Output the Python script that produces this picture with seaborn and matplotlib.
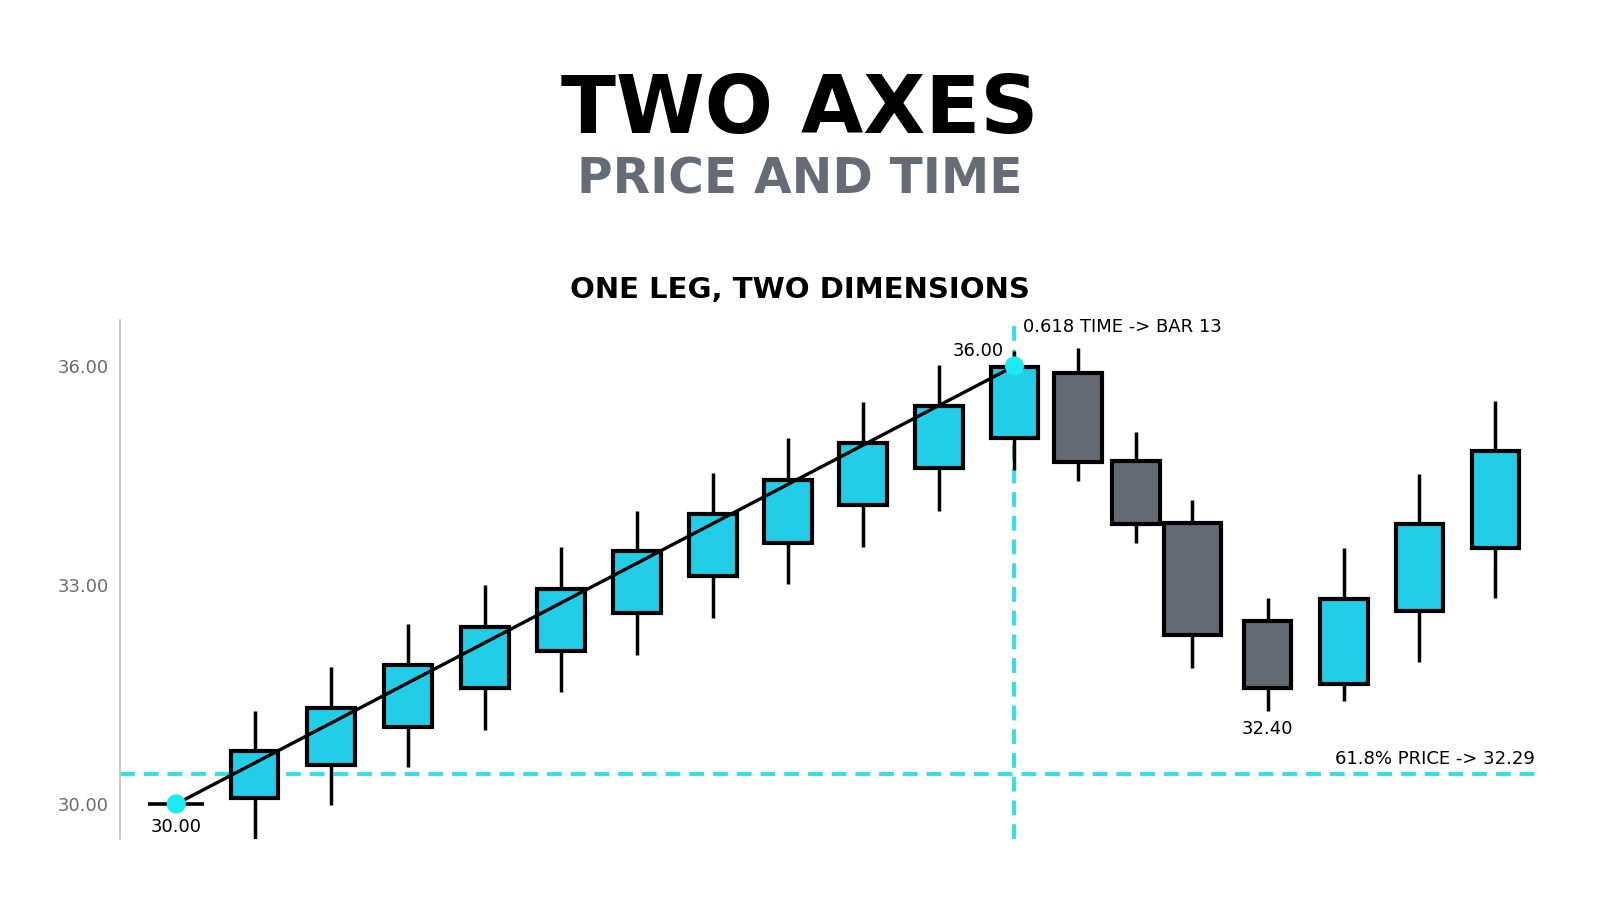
import numpy as np
import pandas as pd
import matplotlib
matplotlib.use("Agg")
import matplotlib.pyplot as plt
import seaborn as sns

# %% --------------------------------------------------------------------------
# Data
# -----------------------------------------------------------------------------
bar_x = [0, 1.03, 2.04, 3.05, 4.06, 5.06, 6.06, 7.06, 8.05, 9.04, 10.04, 11.03,
         11.87, 12.63, 13.37, 14.36, 15.37, 16.36, 17.36]
opens = [30.00, 30.08, 30.53, 31.05, 31.59, 32.09, 32.61, 33.12, 33.58, 34.09,
         34.60, 35.02, 35.90, 34.70, 33.85, 32.50, 31.64, 32.64, 33.51]
closes = [30.00, 30.73, 31.31, 31.90, 32.43, 32.95, 33.46, 33.97, 34.44, 34.95,
          35.45, 35.99, 34.69, 33.84, 32.31, 31.59, 32.81, 33.83, 34.83]
highs = [30.00, 31.27, 31.87, 32.46, 33.00, 33.52, 34.02, 34.54, 35.01, 35.51,
         36.01, 36.21, 36.24, 35.10, 34.17, 32.82, 33.51, 34.52, 35.52]
lows = [30.00, 29.25, 29.98, 30.50, 31.02, 31.53, 32.04, 32.55, 33.01, 33.52,
        34.02, 34.57, 34.42, 33.58, 31.86, 31.28, 31.41, 31.95, 32.82]
body_w = [0.74, 0.63, 0.63, 0.63, 0.63, 0.63, 0.63, 0.63, 0.63, 0.63,
          0.63, 0.63, 0.63, 0.63, 0.75, 0.63, 0.63, 0.63, 0.63]

y_ticks = [30.0, 33.0, 36.0]
swing_bars = [0, 11]
swing_prices = [30.00, 36.00]
fib_price_level = 30.41
fib_time_bar = 11

title = "TWO AXES"
subtitle = "PRICE AND TIME"
chart_title = "ONE LEG, TWO DIMENSIONS"

CYAN = "#22cde8"
GRAY = "#636a74"
DOT = "#1de9f2"
DASH = "#2fdfe9"

df = pd.DataFrame({"x": bar_x, "open": opens, "close": closes,
                   "high": highs, "low": lows, "w": body_w})

# %% --------------------------------------------------------------------------
# Figure
# -----------------------------------------------------------------------------
sns.set_theme(style="white")
plt.rcParams["font.family"] = ["DejaVu Sans"]

fig = plt.figure(figsize=(16, 9.14), dpi=100)
ax = fig.add_axes([120 / 1600, 75 / 914, 1415 / 1600, 519 / 914])

# fib guides
ax.axhline(fib_price_level, color=DASH, lw=2.8, dashes=(3.8, 2.3), zorder=1)
ax.axvline(bar_x[fib_time_bar], color=DASH, lw=2.8, dashes=(3.8, 2.3), zorder=1)

# wicks
ax.vlines(df["x"], df["low"], df["high"], color="black", lw=2.5, zorder=2)

# bodies
bull = df["close"] >= df["open"]
real = df["close"] != df["open"]
cols = np.where(bull, CYAN, GRAY)
ax.bar(df["x"][real], (df["close"] - df["open"]).abs()[real],
       bottom=df[["open", "close"]].min(axis=1)[real], width=df["w"][real],
       color=cols[real], edgecolor="black", linewidth=3, zorder=3)

# doji
doji = df[~real]
ax.hlines(doji["close"], doji["x"] - doji["w"] / 2, doji["x"] + doji["w"] / 2,
          color="black", lw=2.6, zorder=3)

# leg line + swing points
leg = pd.DataFrame({"x": [bar_x[i] for i in swing_bars], "y": swing_prices})
sns.lineplot(data=leg, x="x", y="y", ax=ax, color="black", lw=2.4, zorder=4)
sns.scatterplot(data=leg, x="x", y="y", ax=ax, color=DOT, s=190,
                edgecolor="none", zorder=5)

ax.set_xlim(-0.74, 17.88)
ax.set_ylim(29.52, 36.63)
ax.set_yticks(y_ticks)
ax.set_yticklabels([f"{v:.2f}" for v in y_ticks])
ax.set_xticks([])
ax.set_xlabel("")
ax.set_ylabel("")
ax.tick_params(axis="y", length=0, pad=8, labelsize=13, labelcolor="#6b6b6b")
for s in ["top", "right", "bottom"]:
    ax.spines[s].set_visible(False)
ax.spines["left"].set_color("#c4c4c4")
ax.spines["left"].set_linewidth(1.3)

# annotations
ann = dict(textcoords="offset pixels", va="center", fontsize=13, color="black")
ax.annotate("30.00", (bar_x[0], swing_prices[0]), xytext=(0, -23), ha="center", **ann)
ax.annotate("36.00", (bar_x[11], swing_prices[1]), xytext=(-11, 15), ha="right", **ann)
ax.annotate("0.618 TIME -> BAR 13", (bar_x[fib_time_bar], 36.63), xytext=(9, -7),
            ha="left", **ann)
ax.annotate("32.40", (bar_x[15], lows[15]), xytext=(0, -18), ha="center", **ann)
ax.annotate("61.8% PRICE -> 32.29", (17.88, fib_price_level), xytext=(0, 15),
            ha="right", **ann)

# titles
fig.text(0.5, 1 - 133 / 914, title, ha="center", va="baseline",
         fontsize=58, fontweight="bold", color="black")
fig.text(0.5, 1 - 194 / 914, subtitle, ha="center", va="baseline",
         fontsize=35, fontweight="bold", color="#666c76")
fig.text(0.5, 1 - 298 / 914, chart_title, ha="center", va="baseline",
         fontsize=21, fontweight="bold", color="black")

fig.savefig("out.png", dpi=100, facecolor="white")
